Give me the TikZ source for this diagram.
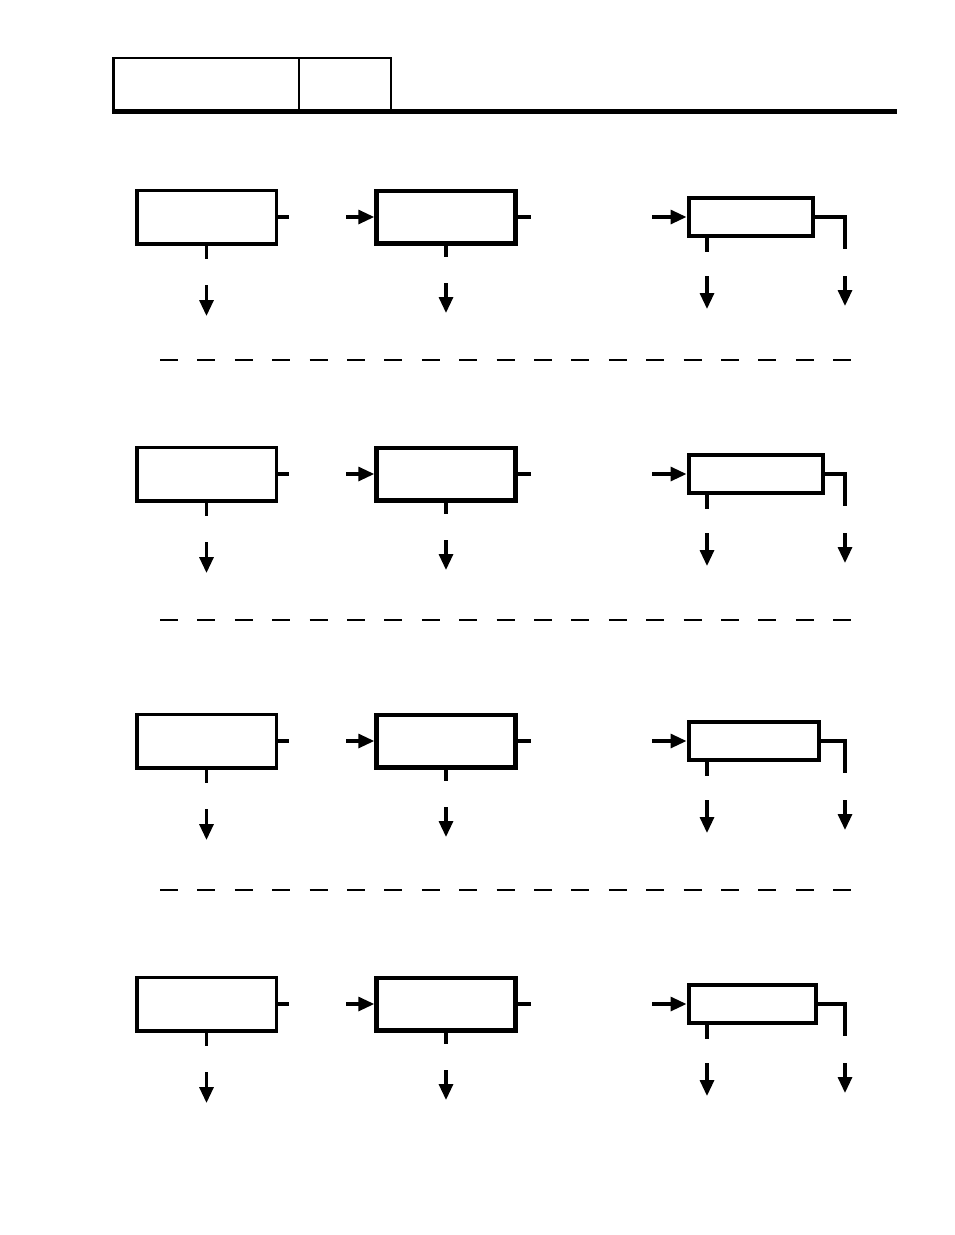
\documentclass[tikz,border=0pt]{standalone}
\usetikzlibrary{arrows.meta}

\begin{document}
\begin{tikzpicture}[x=1pt, y=-1pt]
	\tikzset{
	  BoxStyle/.style = { draw, rectangle, inner sep = 0pt, line width = 3.5pt },
	  StubStyle/.style = { line width = 3.2pt },
	  ArrowStyle/.style = { line width = 3.2pt, -{Triangle[length=16pt, width=14pt]} },
	  SepStyle/.style = { line width = 1.6pt, dash pattern = on 18pt off 19.4pt } }
	\useasboundingbox (0,0) rectangle (954,1235);
	% title block
	\node[BoxStyle, line width = 2.5pt, outer sep = 0pt,
	      minimum width = 185.5pt, minimum height = 53pt] (title) at (206.25,84.5) {};
	\node[BoxStyle, line width = 2pt, outer sep = 0pt,
	      minimum width = 92pt, minimum height = 53pt] (page) at (345,84.5) {};
	\coordinate (ruleL) at (112,111.5);
	\coordinate (ruleR) at (897,111.5);
	\draw[line width = 5pt] (ruleL) -- (ruleR);
	% four rows of boxes
	\foreach \r/\y/\cw in {1/217/124, 2/474/134, 3/741/130, 4/1004/127} {
	  \node[BoxStyle, minimum width = 139.5pt, minimum height = 53.5pt] (A\r) at (206.5,\y) {};
	  \node[BoxStyle, line width = 4.5pt, minimum width = 139pt, minimum height = 52.5pt] (B\r) at (446,\y) {};
	  \node[BoxStyle, line width = 4pt, minimum width = \cw pt, minimum height = 38pt,
	        anchor = west] (C\r) at (686.5,\y) {};
	  % first box
	  \coordinate (ar\r) at (289,\y);
	  \coordinate (ad\r) at (206.5,{\y+42});
	  \coordinate (as\r) at (206.5,{\y+68});
	  \coordinate (ae\r) at (206.5,{\y+99});
	  \draw[StubStyle] (A\r.east) -- (ar\r);
	  \draw[StubStyle] (A\r.south) -- (ad\r);
	  \draw[ArrowStyle] (as\r) -- (ae\r);
	  % second box
	  \coordinate (bi\r) at (346,\y);
	  \coordinate (br\r) at (531,\y);
	  \coordinate (bd\r) at (446,{\y+40});
	  \coordinate (bs\r) at (446,{\y+66});
	  \coordinate (be\r) at (446,{\y+96});
	  \draw[ArrowStyle] (bi\r) -- (B\r.west);
	  \draw[StubStyle] (B\r.east) -- (br\r);
	  \draw[StubStyle] (B\r.south) -- (bd\r);
	  \draw[ArrowStyle] (bs\r) -- (be\r);
	  % third box
	  \coordinate (ci\r) at (652,\y);
	  \coordinate (cd\r) at (707,{\y+35});
	  \coordinate (ck\r) at (845,{\y+32});
	  \coordinate (cs\r) at (707,{\y+59});
	  \coordinate (ce\r) at (707,{\y+92});
	  \coordinate (ks\r) at (845,{\y+59});
	  \coordinate (ke\r) at (845,{\y+89});
	  \draw[ArrowStyle] (ci\r) -- (C\r.west);
	  \draw[StubStyle] (C\r.south -| cd\r) -- (cd\r);
	  \draw[StubStyle] (C\r.east) -| (ck\r);
	  \draw[ArrowStyle] (cs\r) -- (ce\r);
	  \draw[ArrowStyle] (ks\r) -- (ke\r);
	}
	% separators
	\foreach \s in {360, 620, 890}
	  \draw[SepStyle] (160,\s) -- (851,\s);
\end{tikzpicture}
\end{document}
